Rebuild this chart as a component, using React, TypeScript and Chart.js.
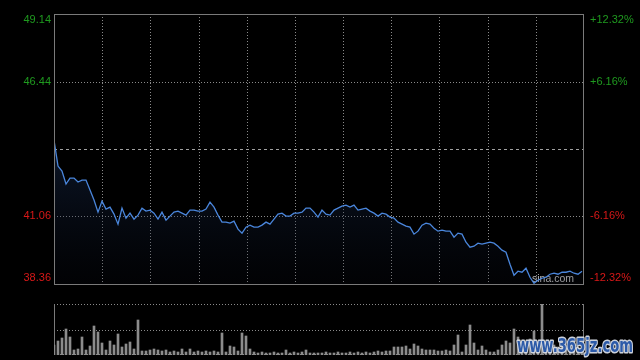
import React, { useEffect, useRef } from "react";
import { Chart, registerables } from "chart.js";

Chart.register(...registerables);

// ---- data ----
const prevClose = 43.75;
const priceMin = 38.36;
const priceMax = 49.14;
const leftTickValues = [49.14, 46.44, 43.75, 41.06, 38.36];
const leftTickLabels = ["49.14", "46.44", "", "41.06", "38.36"];
const rightTickLabels = ["+12.32%", "+6.16%", "", "-6.16%", "-12.32%"];

const prices = [
  44.11, 43.07, 42.87, 42.35, 42.59, 42.59, 42.43, 42.51, 42.51, 42.11,
  41.71, 41.23, 41.67, 41.35, 41.43, 41.15, 40.75, 41.39, 40.99, 41.19,
  40.95, 41.11, 41.39, 41.27, 41.31, 41.19, 40.95, 41.23, 40.91, 41.07,
  41.23, 41.27, 41.19, 41.11, 41.31, 41.31, 41.27, 41.27, 41.35, 41.63,
  41.43, 41.11, 40.83, 40.83, 40.79, 40.87, 40.55, 40.39, 40.63, 40.71,
  40.63, 40.63, 40.71, 40.83, 40.75, 40.95, 41.15, 41.19, 41.07, 41.07,
  41.19, 41.19, 41.23, 41.39, 41.39, 41.23, 41.03, 41.31, 41.15, 41.11,
  41.31, 41.39, 41.47, 41.51, 41.43, 41.51, 41.31, 41.35, 41.39, 41.27,
  41.19, 41.07, 41.19, 41.15, 41.03, 40.99, 40.83, 40.75, 40.67, 40.63,
  40.35, 40.47, 40.71, 40.79, 40.75, 40.59, 40.47, 40.51, 40.47, 40.47,
  40.23, 40.39, 40.35, 40.03, 39.83, 39.87, 39.99, 39.95, 39.99, 40.03,
  39.99, 39.87, 39.71, 39.63, 39.15, 38.71, 38.87, 38.83, 38.99, 38.63,
  38.39, 38.51, 38.59, 38.63, 38.75, 38.79, 38.75, 38.83, 38.83, 38.87,
  38.79, 38.75, 38.87,
];

const volumes = [
  10, 14, 17, 26, 18, 5, 6, 18, 5, 9,
  29, 23, 12, 5, 14, 10, 21, 8, 11, 13,
  6, 35, 4, 4, 5, 6, 5, 4, 5, 3,
  4, 3, 6, 3, 6, 3, 4, 3, 4, 3,
  4, 3, 22, 3, 9, 8, 4, 22, 19, 6,
  3, 2, 3, 2, 2, 3, 2, 2, 5, 2,
  3, 2, 3, 5, 2, 2, 2, 2, 3, 2,
  2, 3, 2, 2, 3, 2, 3, 2, 3, 2,
  3, 4, 3, 4, 4, 8, 8, 8, 9, 6,
  11, 9, 6, 5, 5, 5, 4, 4, 5, 4,
  10, 20, 3, 10, 30, 12, 5, 9, 5, 3,
  3, 5, 10, 14, 12, 26, 18, 10, 13, 16,
  24, 10, 51, 12, 13, 10, 8, 10, 7, 9,
  6, 8, 5,
];
const volumeMax = 51;

// ---- styles ----
const GREEN = "#1f9a1f";
const RED = "#d81818";
const GRID = "#8a8a8a";
const BORDER = "#7a7a7a";
const FONT = '11px "Liberation Sans", Arial, sans-serif';

const hline = (ctx: CanvasRenderingContext2D, x1: number, x2: number, y: number) => {
  ctx.beginPath();
  ctx.moveTo(x1, y);
  ctx.lineTo(x2, y);
  ctx.stroke();
};
const vline = (ctx: CanvasRenderingContext2D, x: number, y1: number, y2: number) => {
  ctx.beginPath();
  ctx.moveTo(x, y1);
  ctx.lineTo(x, y2);
  ctx.stroke();
};

const priceDecor = {
  id: "priceDecor",
  beforeDatasetsDraw(chart: any) {
    const { ctx, chartArea: a, scales } = chart;
    const ys = scales.y;
    ctx.save();
    ctx.lineWidth = 1;
    ctx.strokeStyle = GRID;
    ctx.setLineDash([1, 2]);
    for (let k = 1; k < 11; k++) {
      const x = Math.round(a.left + (k * (a.right - a.left)) / 11) + 0.5;
      vline(ctx, x, a.top, a.bottom);
    }
    leftTickValues.forEach((v) => {
      if (v === priceMin || v === priceMax || v === prevClose) return;
      const y = Math.round(ys.getPixelForValue(v)) + 0.5;
      hline(ctx, a.left, a.right, y);
    });
    ctx.strokeStyle = "#a0a0a0";
    ctx.setLineDash([3, 3]);
    hline(ctx, a.left, a.right, Math.round(ys.getPixelForValue(prevClose)) + 0.5);
    ctx.setLineDash([]);
    ctx.fillStyle = "#b8b8b8";
    ctx.font = '10.5px "Liberation Sans", Arial, sans-serif';
    ctx.textAlign = "left";
    ctx.textBaseline = "alphabetic";
    ctx.fillText("sina.com", a.right - 52, a.bottom - 2);
    ctx.restore();
  },
  afterDraw(chart: any) {
    const { ctx, chartArea: a, scales } = chart;
    const ys = scales.y;
    ctx.save();
    ctx.strokeStyle = BORDER;
    ctx.lineWidth = 1;
    ctx.strokeRect(a.left + 0.5, a.top + 0.5, a.right - a.left - 1, a.bottom - a.top);
    ctx.font = FONT;
    ctx.textBaseline = "middle";
    leftTickValues.forEach((v, i) => {
      let y = ys.getPixelForValue(v);
      y = Math.max(a.top + 6, Math.min(a.bottom - 6.5, y));
      ctx.fillStyle = v > prevClose ? GREEN : RED;
      ctx.textAlign = "right";
      ctx.fillText(leftTickLabels[i], a.left - 3, y);
      ctx.textAlign = "left";
      ctx.fillText(rightTickLabels[i], a.right + 6, y);
    });
    ctx.restore();
  },
};

const volumeDecor = {
  id: "volumeDecor",
  beforeDatasetsDraw(chart: any) {
    const { ctx, chartArea: a, scales } = chart;
    const ys = scales.y;
    ctx.save();
    ctx.lineWidth = 1;
    ctx.strokeStyle = GRID;
    ctx.setLineDash([1, 2]);
    hline(ctx, a.left, a.right, Math.round(a.top) + 0.5);
    hline(ctx, a.left, a.right, Math.round(ys.getPixelForValue(volumeMax / 2)) + 0.5);
    hline(ctx, a.left, a.right, Math.round(a.bottom) - 0.5);
    ctx.setLineDash([]);
    ctx.strokeStyle = BORDER;
    vline(ctx, a.left + 0.5, a.top, a.bottom);
    vline(ctx, a.right - 0.5, a.top, a.bottom);
    ctx.restore();
  },
  afterDraw(chart: any) {
    const { ctx } = chart;
    ctx.save();
    const text = "www.365jz.com";
    ctx.font = 'bold 19px "DejaVu Sans", Arial, sans-serif';
    const w = ctx.measureText(text).width;
    ctx.translate(517, 52);
    ctx.scale(116 / w, 1);
    ctx.lineJoin = "round";
    ctx.lineWidth = 3;
    ctx.strokeStyle = "rgba(215,220,230,0.95)";
    ctx.strokeText(text, 0, 0);
    ctx.fillStyle = "#2c5aa8";
    ctx.fillText(text, 0, 0);
    ctx.restore();
  },
};

export default function App() {
  const priceRef = useRef<HTMLCanvasElement>(null);
  const volRef = useRef<HTMLCanvasElement>(null);

  useEffect(() => {
    document.body.style.margin = "0";
    document.body.style.background = "#000";
    const priceChart = new Chart(priceRef.current as HTMLCanvasElement, {
      type: "line",
      data: {
        datasets: [
          {
            data: prices.map((p, i) => ({ x: i, y: p })),
            borderColor: "#4a86dc",
            borderWidth: 1.3,
            pointRadius: 0,
            tension: 0,
            fill: "start",
            backgroundColor: (c: any) => {
              const area = c.chart.chartArea;
              if (!area) return "rgba(0,0,0,0)";
              const g = c.chart.ctx.createLinearGradient(0, area.top + 120, 0, area.bottom);
              g.addColorStop(0, "rgba(30,55,100,0.45)");
              g.addColorStop(1, "rgba(10,15,30,0.15)");
              return g;
            },
          },
        ],
      },
      options: {
        animation: false,
        responsive: false,
        maintainAspectRatio: false,
        devicePixelRatio: 1,
        layout: { padding: { left: 54, right: 56, top: 14, bottom: 16 } },
        plugins: { legend: { display: false }, tooltip: { enabled: false } },
        scales: {
          x: { type: "linear", display: false, min: 0, max: 132.5 },
          y: { display: false, min: priceMin, max: priceMax },
        },
      },
      plugins: [priceDecor],
    } as any);

    const volChart = new Chart(volRef.current as HTMLCanvasElement, {
      type: "bar",
      data: {
        datasets: [
          {
            data: volumes.map((v, i) => ({ x: i, y: v })),
            backgroundColor: "#8c8c8c",
            barThickness: 2,
          },
        ],
      },
      options: {
        animation: false,
        responsive: false,
        maintainAspectRatio: false,
        devicePixelRatio: 1,
        layout: { padding: { left: 54, right: 56, top: 4, bottom: 5 } },
        plugins: { legend: { display: false }, tooltip: { enabled: false } },
        scales: {
          x: { type: "linear", display: false, min: 0, max: 132.5, offset: false },
          y: { display: false, min: 0, max: volumeMax },
        },
      },
      plugins: [volumeDecor],
    } as any);

    return () => {
      priceChart.destroy();
      volChart.destroy();
    };
  }, []);

  return (
    <div style={{ position: "fixed", left: 0, top: 0, width: 640, height: 360, background: "#000" }}>
      <canvas ref={priceRef} width={640} height={300} style={{ position: "absolute", left: 0, top: 0, width: 640, height: 300 }} />
      <canvas ref={volRef} width={640} height={60} style={{ position: "absolute", left: 0, top: 300, width: 640, height: 60 }} />
    </div>
  );
}
